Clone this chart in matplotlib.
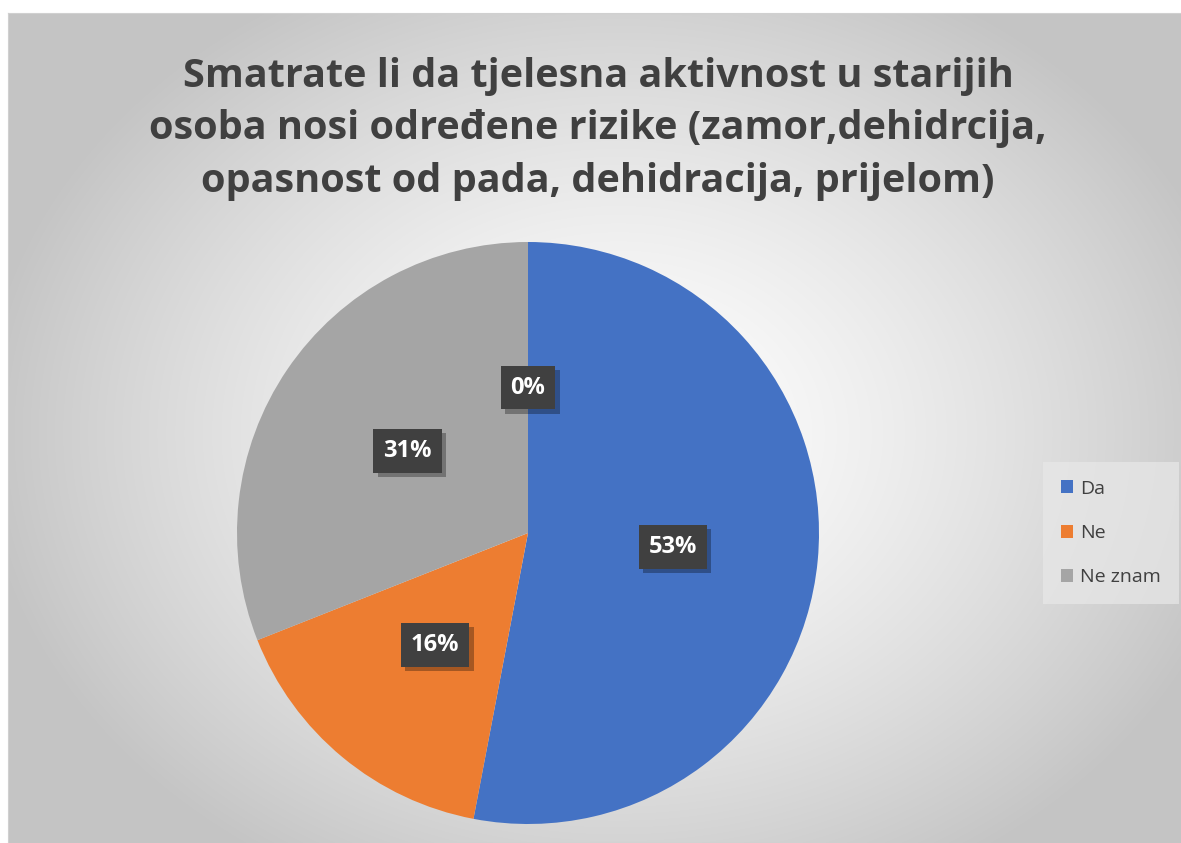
import numpy as np
import matplotlib.pyplot as plt
import matplotlib.patheffects as pe
from matplotlib.patches import Patch

title = "Smatrate li da tjelesna aktivnost u starijih\nosoba nosi određene rizike (zamor,dehidrcija,\nopasnost od pada, dehidracija, prijelom)"
categories = ["Da", "Ne", "Ne znam"]
values = [53, 16, 31, 0]
colors = ["#4472C4", "#ED7D31", "#A5A5A5", "#FFC000"]

W, H = 1181, 843
fig = plt.figure(figsize=(W / 100, H / 100), dpi=100)
fig.patch.set_facecolor("white")

# chart area with radial gradient
bg = fig.add_axes([8 / W, 0, 1 - 8 / W, 1 - 13 / H])
yy, xx = np.mgrid[0:830, 0:1173]
cx, cy = 610, 420
d = np.sqrt(((xx - cx) / 680.0) ** 2 + ((yy - cy) / 540.0) ** 2)
g = np.clip(1.0 - 0.25 * d ** 1.4, 0.77, 1.0)
bg.imshow(np.dstack([g, g, g]), aspect="auto", extent=[0, 1, 0, 1], origin="upper")
bg.set_xlim(0, 1)
bg.set_ylim(0, 1)
for s in bg.spines.values():
    s.set_color("#d0d0d0")
bg.set_xticks([])
bg.set_yticks([])

fig.text(598 / W, 1 - 129 / H, title, ha="center", va="center", fontsize=28.5,
         fontweight="bold", color="#404040", family="Open Sans", linespacing=1.45)

r = 291
ax = fig.add_axes([(528 - r) / W, (H - 533 - r) / H, 2 * r / W, 2 * r / H])
wedges, texts, autotexts = ax.pie(values, colors=colors, startangle=90, counterclock=False,
                                  autopct="%1.0f%%", pctdistance=0.5, radius=1.0)
ax.set_xlim(-1, 1)
ax.set_ylim(-1, 1)
ax.set_aspect("equal")
ax.axis("off")

for t in autotexts:
    t.set_fontsize(17)
    t.set_fontweight("bold")
    t.set_color("white")
    t.set_family("Open Sans")
    t.set_bbox(dict(boxstyle="square,pad=0.42", facecolor="#404040", edgecolor="none"))
    t.get_bbox_patch().set_path_effects([
        pe.SimplePatchShadow(offset=(3, -3), shadow_rgbFace="black", alpha=0.3),
        pe.Normal()])
    t.set_zorder(5)

handles = [Patch(facecolor=colors[i], edgecolor="none", label=categories[i]) for i in range(3)]
leg = fig.legend(handles=handles, loc="center", bbox_to_anchor=(1111 / W, 1 - 533 / H),
                 frameon=True, handlelength=0.65, handleheight=0.65,
                 handletextpad=0.35, labelspacing=1.35, borderpad=0.6,
                 prop={"family": "Open Sans", "size": 14})
leg.get_frame().set_facecolor("#e8e8e8")
leg.get_frame().set_edgecolor("none")
leg.get_frame().set_alpha(0.7)
leg.get_frame().set_boxstyle("square")
for t in leg.get_texts():
    t.set_color("#404040")

fig.savefig("out.png", dpi=100)
